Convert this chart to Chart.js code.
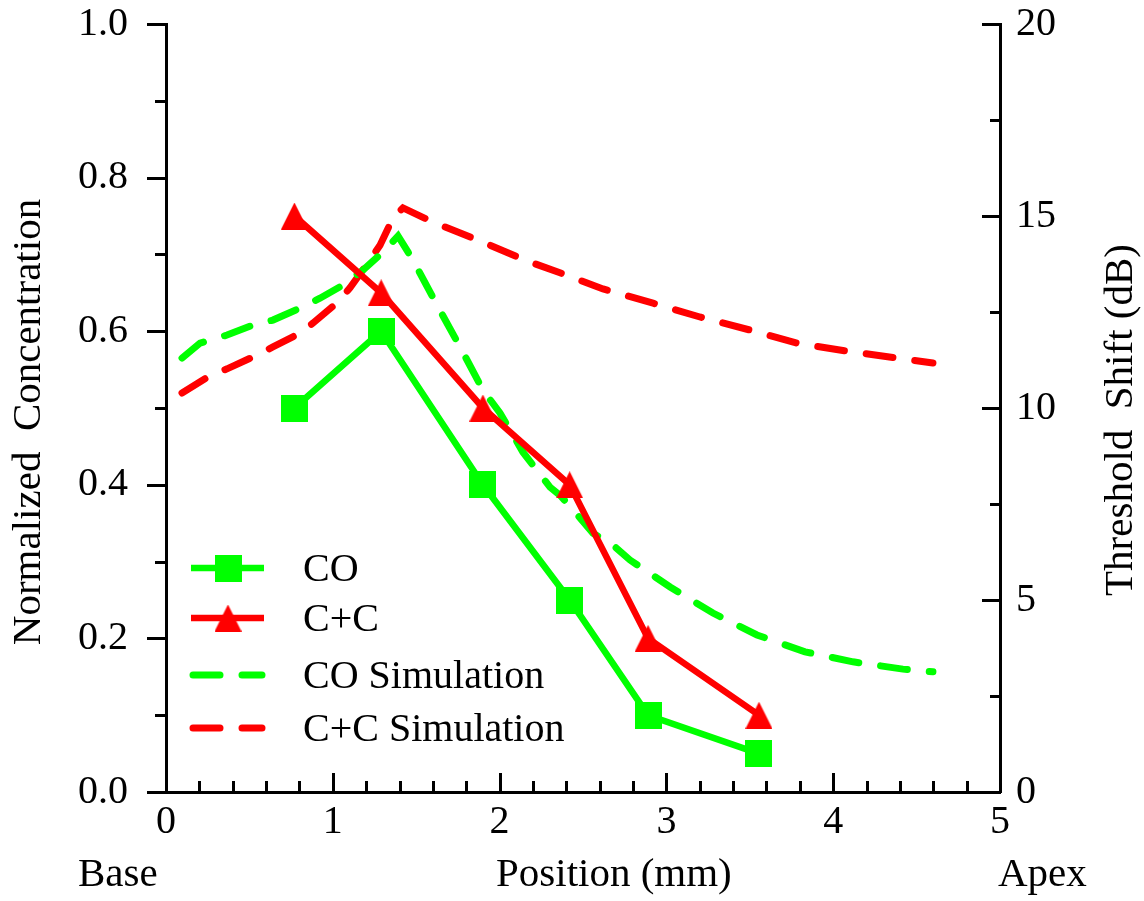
<!DOCTYPE html>
<html>
<head>
<meta charset="utf-8">
<script src="https://cdn.jsdelivr.net/npm/chart.js@4.4.1/dist/chart.umd.min.js"></script>
<style>
  html, body { margin: 0; padding: 0; background: #fff; }
  #wrap { width: 1144px; height: 901px; }
</style>
</head>
<body>
<div id="wrap"><canvas id="chart" width="1144" height="901"></canvas></div>
<script>
// measured data, position along the cochlea (mm)
const posCO = [0.77, 1.29, 1.90, 2.42, 2.89, 3.555];
const normCO = [0.50, 0.60, 0.40, 0.25, 0.10, 0.05];
const posCC = [0.77, 1.29, 1.90, 2.42, 2.89, 3.555];
const normCC = [0.75, 0.65, 0.50, 0.40, 0.20, 0.10];

// simulated threshold shift (dB)
const simPosCO = [0.096, 0.204, 0.366, 0.522, 0.641, 0.803, 0.923, 1.061, 1.181, 1.301, 1.391,
  1.481, 1.625, 1.763, 1.900, 2.002, 2.140, 2.302, 2.362, 2.452, 2.560, 2.680, 2.782, 3.022,
  3.279, 3.543, 3.831, 4.119, 4.418, 4.598];
const simCO = [11.30, 11.69, 11.90, 12.16, 12.29, 12.60, 12.86, 13.20, 13.59, 14.06, 14.48,
  13.85, 12.68, 11.59, 10.47, 9.87, 8.85, 7.94, 7.73, 7.29, 6.74, 6.43, 6.04, 5.34,
  4.66, 4.09, 3.65, 3.39, 3.20, 3.13];
const simPosCC = [0.096, 0.252, 0.366, 0.522, 0.641, 0.803, 0.881, 1.031, 1.103, 1.211, 1.283,
  1.361, 1.421, 1.601, 1.882, 2.164, 2.362, 2.620, 2.920, 3.201, 3.501, 3.783, 4.083, 4.382, 4.598];
const simCC = [10.39, 10.81, 11.02, 11.33, 11.59, 11.95, 12.21, 12.76, 13.13, 13.78, 14.24,
  14.95, 15.21, 14.84, 14.35, 13.83, 13.52, 13.10, 12.73, 12.37, 12.03, 11.69, 11.48, 11.30, 11.17];

const seriesNames = ['CO', 'C+C', 'CO Simulation', 'C+C Simulation'];
const GREEN = '#00ff00';
const RED = '#ff0000';
const FONT = 'Liberation Serif, Times New Roman, serif';

function pairs(xs, ys) {
  return xs.map((x, i) => ({ x: x, y: ys[i] }));
}

function squareMarker(size, color) {
  const c = document.createElement('canvas');
  c.width = size; c.height = size;
  const g = c.getContext('2d');
  g.fillStyle = color;
  g.fillRect(0, 0, size, size);
  return c;
}

function triangleMarker(size, color) {
  const c = document.createElement('canvas');
  c.width = size; c.height = size;
  const g = c.getContext('2d');
  g.fillStyle = color;
  g.beginPath();
  g.moveTo(size / 2, 0);
  g.lineTo(size, size);
  g.lineTo(0, size);
  g.closePath();
  g.fill();
  return c;
}

// keep the plot box where the original has it
function noPad(s) {
  s.paddingTop = 0;
  s.paddingBottom = 0;
  s.paddingLeft = 0;
  s.paddingRight = 0;
}

// tick marks, axis titles and the legend
const decor = {
  id: 'decor',
  afterDraw(chart) {
    const ctx = chart.ctx;
    const area = chart.chartArea;
    const sx = chart.scales.x, sy = chart.scales.y, sy2 = chart.scales.y2;
    ctx.save();
    ctx.strokeStyle = '#000';
    ctx.lineWidth = 3;
    ctx.lineCap = 'butt';

    // x: inward ticks, minor every 0.2
    for (let i = 0; i <= 25; i++) {
      const px = Math.round(sx.getPixelForValue(i * 0.2)) + 0.5;
      const len = i % 5 === 0 ? 19 : 11;
      ctx.beginPath();
      ctx.moveTo(px, area.bottom);
      ctx.lineTo(px, area.bottom - len);
      ctx.stroke();
    }
    // left y: outward ticks, minor every 0.1
    for (let i = 0; i <= 10; i++) {
      const py = Math.round(sy.getPixelForValue(i * 0.1)) + 0.5;
      const len = i % 2 === 0 ? 19 : 11;
      ctx.beginPath();
      ctx.moveTo(area.left, py);
      ctx.lineTo(area.left - len, py);
      ctx.stroke();
    }
    // right y: inward ticks, minor every 2.5
    for (let i = 0; i <= 8; i++) {
      const py = Math.round(sy2.getPixelForValue(i * 2.5)) + 0.5;
      const len = i % 2 === 0 ? 18 : 10;
      ctx.beginPath();
      ctx.moveTo(area.right, py);
      ctx.lineTo(area.right - len, py);
      ctx.stroke();
    }

    // titles
    ctx.fillStyle = '#000';
    ctx.font = '41px ' + FONT;
    ctx.textBaseline = 'alphabetic';
    ctx.textAlign = 'center';
    ctx.save();
    ctx.translate(40, 422);
    ctx.rotate(-Math.PI / 2);
    ctx.fillText('Normalized  Concentration', 0, 0);
    ctx.restore();
    ctx.save();
    ctx.translate(1132, 420);
    ctx.rotate(-Math.PI / 2);
    ctx.fillText('Threshold  Shift (dB)', 0, 0);
    ctx.restore();
    ctx.textAlign = 'left';
    ctx.fillText('Base', 78, 886);
    ctx.fillText('Position (mm)', 496, 886);
    ctx.fillText('Apex', 998, 886);

    // legend
    const rowY = [568, 618, 675, 728];
    chart.data.datasets.forEach((ds, i) => {
      const y = rowY[i];
      ctx.save();
      ctx.strokeStyle = ds.borderColor;
      ctx.lineWidth = ds.borderWidth;
      ctx.lineCap = ds.borderCapStyle || 'butt';
      ctx.setLineDash(ds.borderDash || []);
      ctx.beginPath();
      if (ds.borderDash) {
        ctx.moveTo(193, y);
        ctx.lineTo(262, y);
      } else {
        ctx.moveTo(191, y);
        ctx.lineTo(264, y);
      }
      ctx.stroke();
      ctx.restore();
      if (ds.pointStyle && typeof ds.pointStyle === 'object') {
        const m = ds.pointStyle;
        ctx.drawImage(m, 228 - m.width / 2, y - m.height / 2);
      }
      ctx.font = '40px ' + FONT;
      ctx.textBaseline = 'middle';
      ctx.fillStyle = '#000';
      ctx.fillText(ds.label, 303, y + 2);
    });
    ctx.restore();
  }
};

const tickFont = { family: FONT, size: 40 };

new Chart(document.getElementById('chart').getContext('2d'), {
  type: 'line',
  data: {
    datasets: [{
      label: seriesNames[0],
      data: pairs(posCO, normCO),
      yAxisID: 'y',
      borderColor: GREEN,
      backgroundColor: GREEN,
      borderWidth: 6.5,
      pointStyle: squareMarker(27, GREEN),
      pointRadius: 13,
      tension: 0
    }, {
      label: seriesNames[1],
      data: pairs(posCC, normCC),
      yAxisID: 'y',
      borderColor: RED,
      backgroundColor: RED,
      borderWidth: 6.5,
      pointStyle: triangleMarker(27, RED),
      pointRadius: 13,
      tension: 0
    }, {
      label: seriesNames[2],
      data: pairs(simPosCO, simCO),
      yAxisID: 'y2',
      borderColor: GREEN,
      borderWidth: 7,
      borderDash: [27, 22],
      borderCapStyle: 'round',
      pointRadius: 0,
      tension: 0
    }, {
      label: seriesNames[3],
      data: pairs(simPosCC, simCC),
      yAxisID: 'y2',
      borderColor: RED,
      borderWidth: 7,
      borderDash: [27, 22],
      borderCapStyle: 'round',
      pointRadius: 0,
      tension: 0
    }]
  },
  options: {
    responsive: false,
    animation: false,
    devicePixelRatio: 1,
    layout: { padding: { top: 24, left: 0, right: 0, bottom: 0 } },
    plugins: {
      legend: { display: false },
      tooltip: { enabled: false }
    },
    scales: {
      x: {
        type: 'linear',
        position: 'bottom',
        min: 0,
        max: 5,
        ticks: { stepSize: 1, font: tickFont, color: '#000', padding: 6, maxRotation: 0 },
        grid: { display: false, drawTicks: false },
        border: { display: true, color: '#000', width: 3 },
        afterFit: s => { s.height = 109; noPad(s); }
      },
      y: {
        type: 'linear',
        position: 'left',
        min: 0,
        max: 1,
        ticks: { stepSize: 0.2, font: tickFont, color: '#000', padding: 38,
          callback: v => Number(v).toFixed(1) },
        grid: { display: false, drawTicks: false },
        border: { display: true, color: '#000', width: 3 },
        afterFit: s => { s.width = 166; noPad(s); }
      },
      y2: {
        type: 'linear',
        position: 'right',
        min: 0,
        max: 20,
        ticks: { stepSize: 5, font: tickFont, color: '#000', padding: 16 },
        grid: { display: false, drawTicks: false },
        border: { display: true, color: '#000', width: 3 },
        afterFit: s => { s.width = 144; noPad(s); }
      }
    }
  },
  plugins: [decor]
});
</script>
</body>
</html>
